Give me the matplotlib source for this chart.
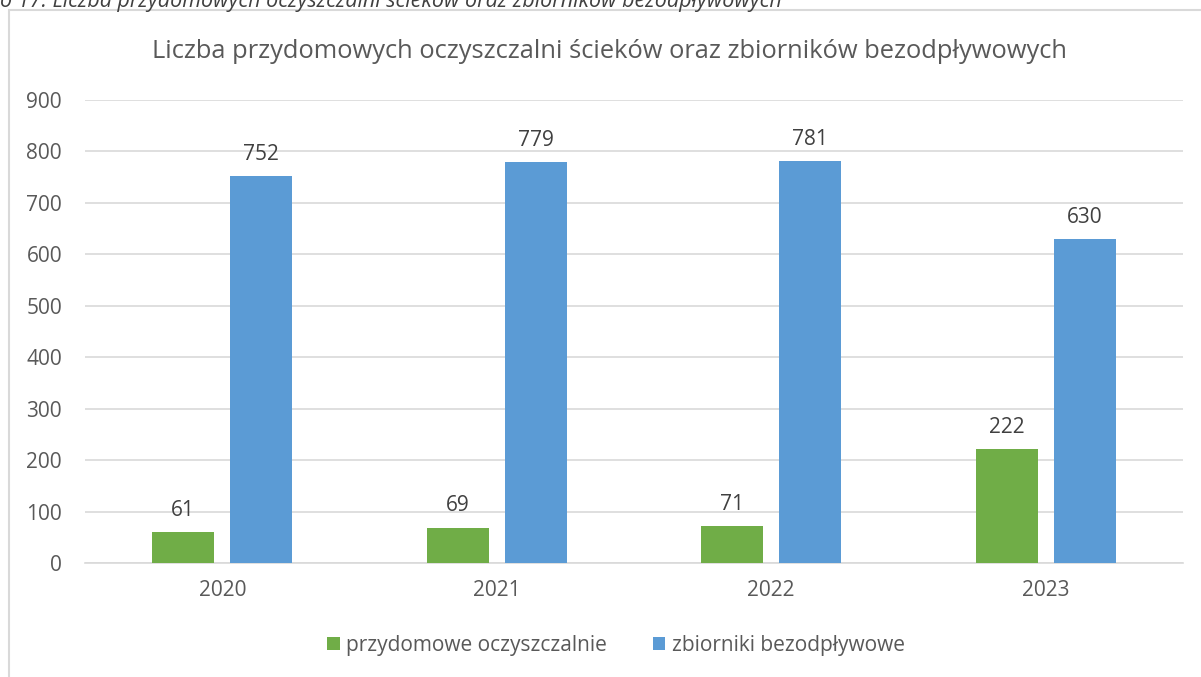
import matplotlib.pyplot as plt
import numpy as np
from matplotlib.patches import Rectangle

# dane
lata = ["2020", "2021", "2022", "2023"]
oczyszczalnie = [61, 69, 71, 222]
zbiorniki = [752, 779, 781, 630]
nazwy = ["przydomowe oczyszczalnie", "zbiorniki bezodpływowe"]

plt.rcParams['font.family'] = ['Open Sans', 'DejaVu Sans']
kolor_txt = "#595959"

fig = plt.figure(figsize=(12.01, 6.77), dpi=100)
ax = fig.add_axes([85 / 1201, 1 - 563 / 677, 1098 / 1201, 463 / 677])

# ramka wykresu
fig.patches.append(Rectangle((9 / 1201, -0.1), 1.2, 1 - 10 / 677 + 0.1, transform=fig.transFigure,
                             fill=False, edgecolor="#D9D9D9", linewidth=1.5))

# podpis (ucięty u góry, jak w oryginale)
fig.text(0, 1 - 2 / 677, "o 17. Liczba przydomowych oczyszczalni ścieków oraz zbiorników bezodpływowych",
         fontsize=15.5, style="italic", color="#404040", va="center", ha="left")

x = np.arange(len(lata))
w = 0.226
b1 = ax.bar(x - 0.142, oczyszczalnie, w, color="#70AD47", label=nazwy[0], zorder=3)
b2 = ax.bar(x + 0.142, zbiorniki, w, color="#5B9BD5", label=nazwy[1], zorder=3)
ax.bar_label(b1, padding=8, fontsize=15, color="#404040")
ax.bar_label(b2, padding=8, fontsize=15, color="#404040")

ax.set_xlim(-0.5, 3.5)
ax.set_ylim(0, 900)
ax.set_yticks(range(0, 901, 100))
ax.set_xticks(x)
ax.set_xticklabels(lata)
ax.tick_params(axis="both", length=0, labelsize=15, colors=kolor_txt)
ax.tick_params(axis="x", pad=12)
ax.tick_params(axis="y", pad=16.5)
ax.grid(axis="y", color="#D9D9D9", linewidth=1.2, zorder=0)
for s in ["top", "right", "left"]:
    ax.spines[s].set_visible(False)
ax.spines["bottom"].set_color("#D9D9D9")
ax.spines["bottom"].set_linewidth(1.2)

fig.text(610 / 1201, 1 - 52 / 677, "Liczba przydomowych oczyszczalni ścieków oraz zbiorników bezodpływowych",
         fontsize=18.4, color=kolor_txt, ha="center", va="center")

fig.legend(loc="center", bbox_to_anchor=(616 / 1201, 1 - 645 / 677), ncol=2, frameon=False,
           fontsize=15, labelcolor=kolor_txt, handlelength=0.6, handleheight=0.6,
           handletextpad=0.3, columnspacing=2.2)

plt.savefig("out.png", dpi=100)
